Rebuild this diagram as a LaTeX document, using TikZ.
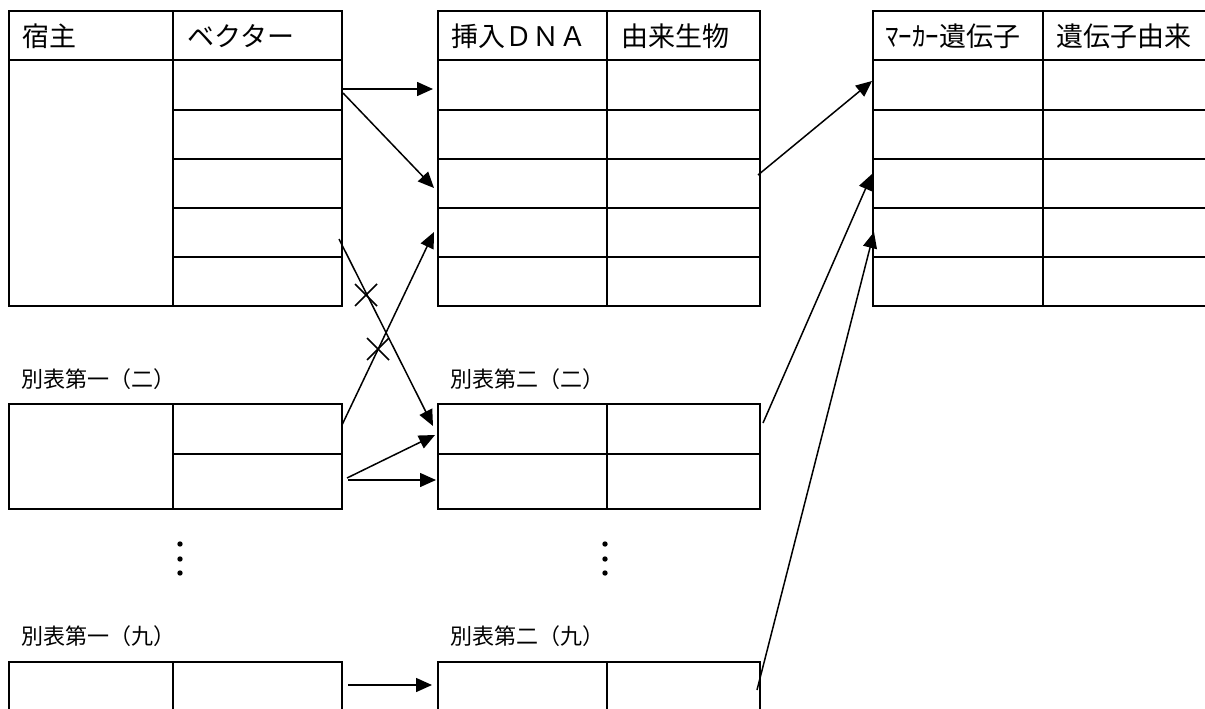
\documentclass[tikz,border=0pt]{standalone}
\usepackage{fontspec}
\setmainfont{Noto Sans CJK JP}
\usetikzlibrary{arrows.meta}
\tikzset{
  tbl/.style={line width=2.2pt, line cap=rect},
  arr/.style={line width=1.5pt, -{Triangle[length=16pt,width=14pt]}},
  plain/.style={line width=1.5pt},
  hdr/.style={anchor=west, inner sep=0pt, font=\fontsize{27}{27}\selectfont},
  lbl/.style={anchor=west, inner sep=0pt, font=\fontsize{22}{22}\selectfont},
  dotc/.style={fill=black, draw=none}
}
\begin{document}
\begin{tikzpicture}[x=1pt,y=-1pt]
\useasboundingbox (0,0) rectangle (1205,709);
\clip (0,0) rectangle (1205,709);
% ---- big table 1
\draw[tbl] (9,11) rectangle (342,306);
\draw[tbl] (173,11) -- (173,306);
\draw[tbl] (9,60) -- (342,60);
\foreach \y in {110,159,208,257} \draw[tbl] (173,\y) -- (342,\y);
% ---- big table 2
\draw[tbl] (438,11) rectangle (760,306);
\draw[tbl] (607,11) -- (607,306);
\foreach \y in {60,110,159,208,257} \draw[tbl] (438,\y) -- (760,\y);
% ---- big table 3 (extends beyond right edge)
\draw[tbl] (1215,11) -- (873,11) -- (873,306) -- (1215,306);
\draw[tbl] (1043,11) -- (1043,306);
\foreach \y in {60,110,159,208,257} \draw[tbl] (873,\y) -- (1215,\y);
% headers
\node[hdr] (h1) at (22,36) {宿主};
\node[hdr] (h2) at (187,36) {ベクター};
\node[hdr] (h3) at (451,36) {挿入ＤＮＡ};
\node[hdr] (h4) at (621,36) {由来生物};
\node[hdr] (h5) at (885,36) {ﾏｰｶｰ遺伝子};
\node[hdr] (h6) at (1056,36) {遺伝子由来};
% ---- small tables (二)
\node[lbl] (l1) at (21,379) {別表第一（二）};
\node[lbl] (l2) at (450,379) {別表第二（二）};
\draw[tbl] (9,404) rectangle (342,509);
\draw[tbl] (173,404) -- (173,509);
\draw[tbl] (173,454) -- (342,454);
\draw[tbl] (438,404) rectangle (760,509);
\draw[tbl] (607,404) -- (607,509);
\draw[tbl] (438,454) -- (760,454);
% ---- vertical dots
\foreach \x in {180,605} {
  \foreach \y in {544,559,573} \fill[dotc] (\x,\y) circle (2.7);
}
% ---- small tables (九)
\node[lbl] (l3) at (21,636) {別表第一（九）};
\node[lbl] (l4) at (450,636) {別表第二（九）};
\draw[tbl] (9,720) -- (9,662) -- (342,662) -- (342,720);
\draw[tbl] (173,662) -- (173,720);
\draw[tbl] (438,720) -- (438,662) -- (760,662) -- (760,720);
\draw[tbl] (607,662) -- (607,720);
% ---- connector coordinates
\coordinate (s1) at (343,89);   \coordinate (e1) at (433,89);
\coordinate (s2) at (343,93);   \coordinate (e2) at (434,188);
\coordinate (s3) at (339,239);  \coordinate (e3) at (433,426);
\coordinate (s4) at (342,425);  \coordinate (e4) at (434,232);
\coordinate (s5) at (347,478);  \coordinate (e5) at (435,435);
\coordinate (s6) at (348,480);  \coordinate (e6) at (436,480);
\coordinate (s7) at (348,685);  \coordinate (e7) at (432,685);
\coordinate (s8) at (758,175);  \coordinate (e8) at (872,81);
\coordinate (s9) at (763,423);  \coordinate (e9) at (872,174);
\coordinate (s10) at (757,690); \coordinate (e10) at (874,232);
\coordinate (x1) at (366,295);
\coordinate (x2) at (378,349);
% ---- connectors
\draw[arr] (s1) -- (e1);
\draw[arr] (s2) -- (e2);
\draw[arr] (s3) -- (e3);
\draw[arr] (s4) -- (e4);
\draw[arr] (s5) -- (e5);
\draw[arr] (s6) -- (e6);
\draw[arr] (s7) -- (e7);
\draw[arr] (s8) -- (e8);
\draw[arr] (s9) -- (e9);
\draw[arr] (s10) -- (e10);
% ---- crosses
\foreach \c in {x1,x2} {
  \draw[plain] ([shift={(-11,-11)}]\c) -- ([shift={(11,11)}]\c);
  \draw[plain] ([shift={(-11,11)}]\c) -- ([shift={(11,-11)}]\c);
}
\end{tikzpicture}
\end{document}
